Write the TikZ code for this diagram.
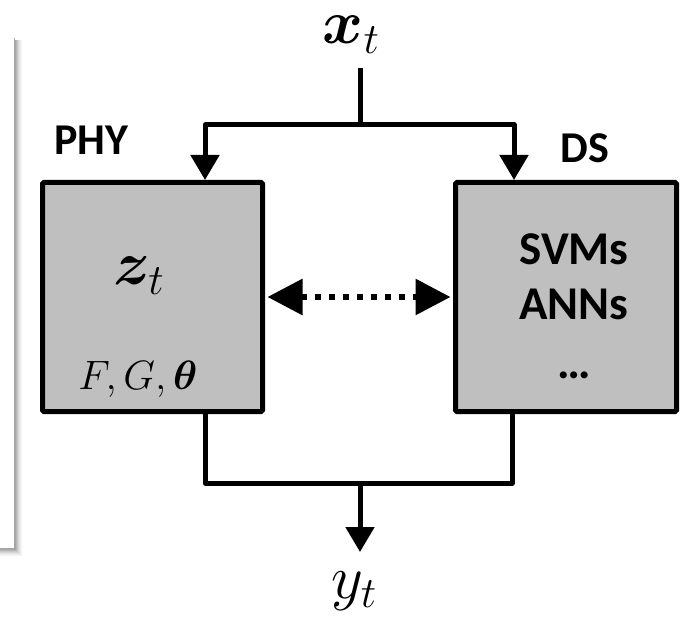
\documentclass[tikz,border=0pt]{standalone}
\usepackage{fix-cm}
\usepackage{bm}
\usepackage{fontspec}
\setmainfont{Carlito}
\usetikzlibrary{arrows.meta}
\definecolor{boxgray}{RGB}{191,191,191}
\tikzset{
  blk/.style={draw=black, fill=boxgray, line width=5pt, rounded corners=1.5pt, inner sep=0pt},
  wire/.style={draw=black, line width=5pt, line join=round},
  bigtip/.style={-{Triangle[length=25pt,width=28pt]}},
  lbl/.style={font=\bfseries\fontsize{44}{50}\selectfont, inner sep=0pt, anchor=base},
  inlbl/.style={font=\bfseries\fontsize{47}{52}\selectfont, inner sep=0pt, anchor=base},
  mth/.style={font=\fontsize{62}{66}\selectfont, inner sep=0pt, anchor=base},
  smth/.style={font=\fontsize{41}{46}\selectfont, inner sep=0pt, anchor=base}
}
\begin{document}
\begin{tikzpicture}[x=1pt,y=-1pt]
\useasboundingbox (0,0) rectangle (685,617);
% cropped frame at left with soft shadow
\foreach \d/\o in {1/0.35,2/0.28,3/0.22,4/0.16,5/0.11,6/0.07,7/0.04}{
  \draw[black, opacity=\o, line width=1pt] (0,548+\d) -- (14+\d,548+\d) -- (14+\d,40);
}
\draw[gray!70, line width=1pt] (0,548) -- (14,548) -- (14,38);
% boxes
\node[blk, minimum width=220pt, minimum height=229pt] (phy) at (152.5,297) {};
\node[blk, minimum width=221pt, minimum height=229pt] (ds) at (566,297) {};
% labels
\node[mth] (xt) at (351,44) {$\bm{x}_t$};
\node[mth] (yt) at (354,598) {$y_t$};
\node[lbl] (phylbl) at (91.5,155) {PHY};
\node[lbl] (dslbl) at (585,163) {DS};
\node[mth] (zt) at (139,285) {$\bm{z}_t$};
\node[smth] (fgt) at (138,389) {$F,G,\bm{\theta}$};
\node[inlbl] (svm) at (574,265) {SVMs};
\node[inlbl] (ann) at (574,320) {ANNs};
\node[inlbl] (dots) at (574,378) {…};
% coordinates
\coordinate (xin) at (360,68);
\coordinate (split) at (360,125);
\coordinate (join) at (360,483);
\coordinate (yout) at (360,552);
% input
\draw[wire] (xin) -- (split);
\draw[wire, bigtip] (split) -| (phy.north -| 205,0);
\draw[wire, bigtip] (split) -| (ds.north -| 514,0);
% output
\draw[wire] (phy.south -| 205,0) |- (join);
\draw[wire] (ds.south -| 512,0) |- (join);
\draw[wire, bigtip] (join) -- (yout);
% dotted double arrow
\draw[line width=6pt, dash pattern=on 6pt off 8pt,
      {Triangle[length=35pt,width=35pt]}-{Triangle[length=35pt,width=35pt]}]
  ([xshift=2.5pt]phy.east) -- ([xshift=-2.5pt]ds.west);
\end{tikzpicture}
\end{document}
